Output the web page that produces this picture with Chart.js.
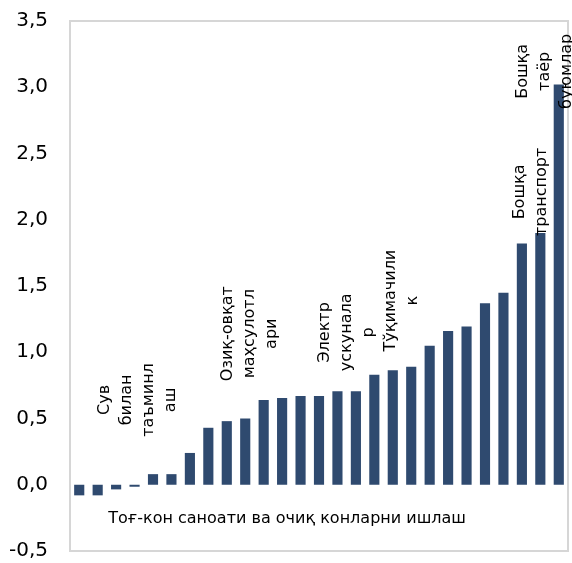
<!DOCTYPE html>
<html>
<head>
<meta charset="utf-8">
<script src="https://cdn.jsdelivr.net/npm/chart.js@4/dist/chart.umd.min.js"></script>
<style>
  html, body { margin: 0; padding: 0; background: #fff; overflow: hidden; }
  canvas { display: block; }
</style>
</head>
<body>
<canvas id="c" width="572" height="563"></canvas>
<script>
// Industries, sorted by value (unnamed ones carry no label on the chart)
const categories = [
  'Тоғ-кон саноати ва очиқ конларни ишлаш', '', '', 'Сув билан таъминлаш', '', '', '', '', '',
  'Озиқ-овқат маҳсулотлари', '', '', '', '', 'Электр ускуналар', '', '', 'Тўқимачилик',
  '', '', '', '', '', '', '', 'Бошқа транспорт', 'Бошқа таёр буюмлар'
];
const values = [
  -0.08, -0.08, -0.035, -0.015, 0.08, 0.08, 0.24, 0.43, 0.48,
  0.50, 0.64, 0.655, 0.67, 0.67, 0.705, 0.705, 0.83, 0.865,
  0.89, 1.05, 1.16, 1.195, 1.37, 1.45, 1.82, 1.90, 3.02
];
const yTicks = [-0.5, 0, 0.5, 1, 1.5, 2, 2.5, 3, 3.5];

// Category captions: which bar, wrapped lines, where the block is centred
const notes = [
  { cat: 3,  lines: ['Сув', 'билан', 'таъминл', 'аш'], at: 3.16, level: 0.64, vertical: true },
  { cat: 9,  lines: ['Озиқ-овқат', 'маҳсулотл', 'ари'], at: 9.26, level: 1.14, vertical: true },
  { cat: 14, lines: ['Электр', 'ускунала', 'р'], at: 14.5, level: 1.15, vertical: true },
  { cat: 17, lines: ['Тўқимачили', 'к'], at: 17.5, level: 1.39, vertical: true },
  { cat: 25, lines: ['Бошқа', 'транспорт'], at: 24.49, level: 2.21, vertical: true },
  { cat: 26, lines: ['Бошқа', 'таёр', 'буюмлар'], at: 25.26, level: 3.12, vertical: true },
  { cat: 0,  lines: [categories[0]], at: 11.27, level: -0.26, vertical: false }
];

const FONT = '"DejaVu Sans", "Liberation Sans", Arial, sans-serif';
const LINE_GAP = 22;

// light grey frame round the plot area
const frame = {
  id: 'plotFrame',
  beforeDraw(chart) {
    const { ctx, chartArea: a } = chart;
    ctx.save();
    ctx.strokeStyle = '#d6d6d6';
    ctx.lineWidth = 2;
    ctx.strokeRect(a.left, a.top, a.right - a.left, a.bottom - a.top);
    ctx.restore();
  }
};

const captions = {
  id: 'captions',
  afterDatasetsDraw(chart) {
    const { ctx } = chart;
    const x = chart.scales.x, y = chart.scales.y;
    ctx.save();
    ctx.fillStyle = '#000';
    ctx.font = '16px ' + FONT;
    ctx.textAlign = 'center';
    ctx.textBaseline = 'middle';
    notes.forEach(n => {
      const cx = x.getPixelForValue(n.at);
      const cy = y.getPixelForValue(n.level);
      const k = n.lines.length;
      ctx.save();
      ctx.translate(cx, cy);
      if (n.vertical) ctx.rotate(-Math.PI / 2);
      n.lines.forEach((t, i) => ctx.fillText(t, 0, (i - (k - 1) / 2) * LINE_GAP));
      ctx.restore();
    });
    ctx.restore();
  }
};

new Chart(document.getElementById('c'), {
  type: 'bar',
  data: {
    labels: categories,
    datasets: [{
      data: values,
      backgroundColor: '#2f4a6f',
      borderWidth: 0,
      categoryPercentage: 1,
      barPercentage: 0.55
    }]
  },
  options: {
    responsive: false,
    devicePixelRatio: 1,
    animation: false,
    layout: { padding: { top: 21, right: 4, bottom: 12, left: 0 } },
    plugins: { legend: { display: false }, tooltip: { enabled: false }, title: { display: false } },
    scales: {
      x: { display: false },
      y: {
        min: -0.5,
        max: 3.5,
        afterFit(scale) {
          scale.width = 70;
          scale.paddingTop = 0;
          scale.paddingBottom = 0;
        },
        afterBuildTicks(scale) { scale.ticks = yTicks.map(v => ({ value: v })); },
        grid: { display: false, drawTicks: false },
        border: { display: false },
        ticks: {
          padding: 22,
          color: '#000',
          font: { family: FONT, size: 20 },
          callback: v => v.toFixed(1).replace('.', ',')
        }
      }
    }
  },
  plugins: [frame, captions]
});
</script>
</body>
</html>
